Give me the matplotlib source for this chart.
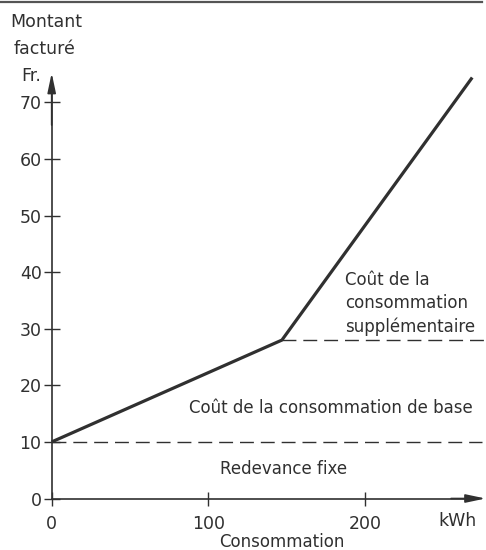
import numpy as np
import matplotlib
matplotlib.use('Agg')
from matplotlib import pyplot as plt

# donnees
conso = [0, 147, 268.5]          # kWh
montant = [10, 28, 74.4]         # Fr.
redevance_fixe = 10
cout_base_max = 28
x_ticks = [0, 100, 200]
y_ticks = [0, 10, 20, 30, 40, 50, 60, 70]

ink = '#303030'
plt.rcParams['font.family'] = ['DejaVu Sans']
plt.rcParams['font.size'] = 12

fig = plt.figure(figsize=(4.86, 5.5), dpi=100)
ax = fig.add_axes([0, 0, 1, 1])
ax.set_xlim(-33.0, 277.3)
ax.set_ylim(-9.1, 88.1)

# axes avec fleches
ax.spines['top'].set_visible(False)
ax.spines['right'].set_visible(False)
ax.spines['left'].set_position(('data', 0))
ax.spines['bottom'].set_position(('data', 0))
ax.spines['left'].set_bounds(0, 73)
ax.spines['bottom'].set_bounds(0, 272)
for s in ['left', 'bottom']:
    ax.spines[s].set_linewidth(1.2)
    ax.spines[s].set_color(ink)
fleche = dict(arrowstyle='-|>,head_length=0.85,head_width=0.18', lw=1.2, color=ink,
              mutation_scale=14, shrinkA=0, shrinkB=0)
ax.annotate('', xy=(0, 75.2), xytext=(0, 66), zorder=5, arrowprops=fleche)
ax.annotate('', xy=(277.0, 0), xytext=(255, 0), zorder=5, arrowprops=fleche)

ax.set_xticks(x_ticks)
ax.set_yticks(y_ticks)
ax.tick_params(axis='y', direction='inout', length=11.5, width=1.0, color=ink,
               labelcolor=ink, labelsize=12.5, pad=1.5)
ax.tick_params(axis='x', direction='inout', length=10, width=1.0, color=ink,
               labelcolor=ink, labelsize=12.5, pad=7)

# courbe du montant facture
ax.plot(conso, montant, color=ink, lw=2.3, solid_capstyle='butt', zorder=4)

# lignes de separation
ax.plot([0, 275], [redevance_fixe, redevance_fixe], color=ink, lw=1.0,
        linestyle=(0, (10, 5)))
ax.plot([conso[1], 276], [cout_base_max, cout_base_max], color=ink, lw=1.0,
        linestyle=(0, (10, 5)))

# textes
ax.text(148, 5.2, 'Redevance fixe', ha='center', va='center', color=ink, fontsize=12)
ax.text(178, 16.0, 'Coût de la consommation de base', ha='center', va='center',
        color=ink, fontsize=12)
ax.text(187.5, 34.5, 'Coût de la\nconsommation\nsupplémentaire', ha='left', va='center',
        color=ink, fontsize=12, linespacing=1.35)
ax.text(259, -4.0, 'kWh', ha='center', va='center', color=ink, fontsize=12.5)
ax.text(147, -7.7, 'Consommation', ha='center', va='center', color=ink, fontsize=12)
ax.text(-26.5, 84.2, 'Montant', ha='left', va='center', color=ink, fontsize=12.5)
ax.text(-24.5, 79.5, 'facturé', ha='left', va='center', color=ink, fontsize=12.5)
ax.text(-19.5, 74.6, 'Fr.', ha='left', va='center', color=ink, fontsize=12.5)

# trait en haut de page
ax.plot([-33, 275], [87.7, 87.7], color='#555555', lw=1.6, clip_on=False)

fig.savefig('out.png', dpi=100)
